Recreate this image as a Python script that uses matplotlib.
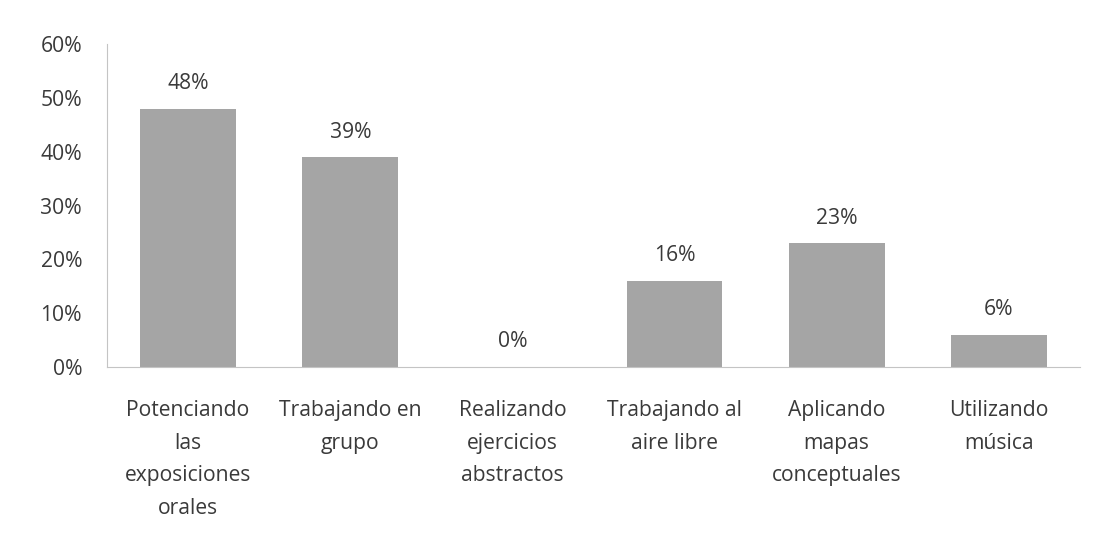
import matplotlib
matplotlib.use("Agg")
import matplotlib.pyplot as plt
from matplotlib.ticker import FuncFormatter

categories = ["Potenciando\nlas\nexposiciones\norales",
              "Trabajando en\ngrupo",
              "Realizando\nejercicios\nabstractos",
              "Trabajando al\naire libre",
              "Aplicando\nmapas\nconceptuales",
              "Utilizando\nmúsica"]
values = [48, 39, 0, 16, 23, 6]
yticks = [0, 10, 20, 30, 40, 50, 60]

plt.rcParams['font.family'] = ['Open Sans', 'DejaVu Sans']
txt = '#3a3a3a'
fs = 15.2

fig = plt.figure(figsize=(10.98, 5.38), dpi=100)
ax = fig.add_axes([0.0975, 0.318, 0.886, 0.600])

x = list(range(len(values)))
ax.bar(x, values, width=0.59, color='#a5a5a5')
for xi, v in zip(x, values):
    ax.annotate(f"{v}%", (xi, v), xytext=(0, 18), textcoords='offset points',
                ha='center', va='center', fontsize=fs, color=txt)

ax.set_xlim(-0.5, len(values) - 0.5)
ax.set_ylim(0, 60)
ax.set_yticks(yticks)
ax.yaxis.set_major_formatter(FuncFormatter(lambda v, p: f"{int(v)}%"))
ax.set_xticks(x)
ax.set_xticklabels(categories, fontsize=fs, color=txt, linespacing=1.72)
ax.tick_params(axis='x', length=0, pad=24)
ax.tick_params(axis='y', length=0, pad=18, labelsize=fs, labelcolor=txt)
for s in ['top', 'right']:
    ax.spines[s].set_visible(False)
ax.spines['left'].set_color('#c4c4c4')
ax.spines['bottom'].set_color('#c4c4c4')

fig.savefig('out.png', dpi=100, facecolor='white')
